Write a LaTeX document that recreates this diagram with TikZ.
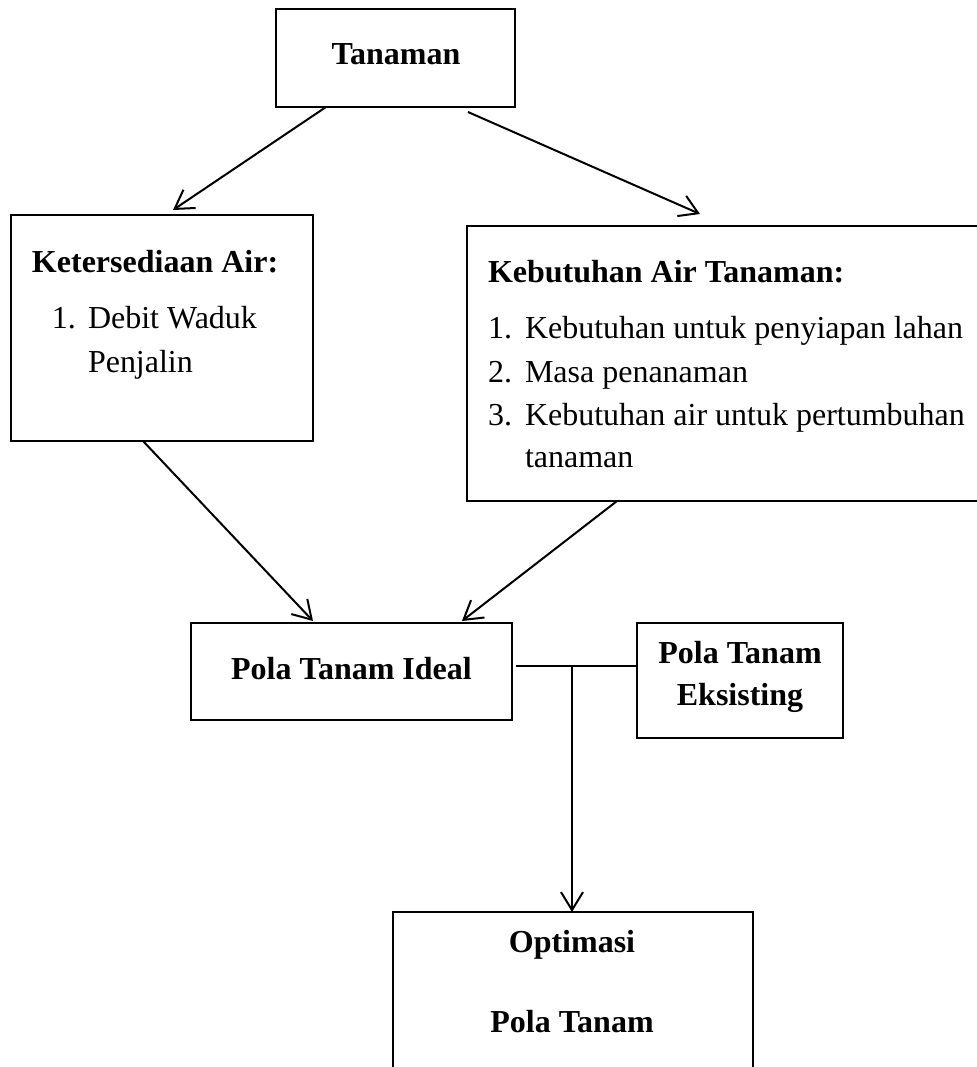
\documentclass[tikz,border=0pt]{standalone}
\usepackage{fontspec}
\setmainfont{Liberation Serif}
\usetikzlibrary{arrows.meta,fit,calc}
\tikzset{
  box/.style={draw, line width=0.75pt, inner sep=0pt, outer sep=0pt},
  txt/.style={inner sep=0pt, outer sep=0pt, font=\fontsize{16pt}{21.5pt}\selectfont},
  btxt/.style={txt, font=\fontsize{16pt}{21.5pt}\selectfont\bfseries},
  arr/.style={line width=1pt, -{Straight Barb[length=9pt,width=11pt,line width=1pt]}},
  link/.style={line width=1pt}
}
\begin{document}
\begin{tikzpicture}[x=0.5pt,y=-0.5pt]
\useasboundingbox (0,0) rectangle (976,1067);
% boxes
\node[box, fit={(276,9) (515,107)}] (tan) {};
\node[box, fit={(11,215) (313,441)}] (ket) {};
\node[box, fit={(467,226) (1010,501)}] (keb) {};
\node[box, fit={(191,623) (512,720)}] (ideal) {};
\node[box, fit={(637,623) (843,738)}] (eks) {};
\node[box, fit={(393,912) (753,1110)}] (opt) {};
% texts
\node[btxt, anchor=base] (tanT) at (396,64) {Tanaman};
\node[btxt, anchor=base west] (ketH) at (32,272) {Ketersediaan Air:};
\node[txt, anchor=base west] (ketN1) at (52,328) {1.};
\node[txt, anchor=base west] (ketI1) at (88,328) {Debit Waduk};
\node[txt, anchor=base west] (ketI1b) at (88,372) {Penjalin};
\node[btxt, anchor=base west] (kebH) at (488,282) {Kebutuhan Air Tanaman:};
\node[txt, anchor=base west] (kebN1) at (488,338) {1.};
\node[txt, anchor=base west] (kebI1) at (525,338) {Kebutuhan untuk penyiapan lahan};
\node[txt, anchor=base west] (kebN2) at (488,382) {2.};
\node[txt, anchor=base west] (kebI2) at (525,382) {Masa penanaman};
\node[txt, anchor=base west] (kebN3) at (488,425) {3.};
\node[txt, anchor=base west] (kebI3) at (525,425) {Kebutuhan air untuk pertumbuhan};
\node[txt, anchor=base west] (kebI3b) at (525,467) {tanaman};
\node[btxt, anchor=base] (idealT) at (351.5,679) {Pola Tanam Ideal};
\node[btxt, anchor=base] (eksT1) at (740,663) {Pola Tanam};
\node[btxt, anchor=base] (eksT2) at (740,705) {Eksisting};
\node[btxt, anchor=base] (optT1) at (572,952) {Optimasi};
\node[btxt, anchor=base] (optT2) at (572,1032) {Pola Tanam};
% connector end points
\coordinate (a1s) at ($(tan.south west)+(50,0)$);
\coordinate (a1e) at ($(ket.north west)+(162,-5)$);
\coordinate (a2s) at ($(tan.south east)+(-47,5)$);
\coordinate (a2e) at ($(keb.north west)+(233,-12)$);
\coordinate (a3s) at ($(ket.south west)+(132,0)$);
\coordinate (a3e) at ($(ideal.north west)+(122,-2)$);
\coordinate (a4s) at ($(keb.south west)+(150,0)$);
\coordinate (a4e) at ($(ideal.north west)+(271,-2)$);
\coordinate (ls) at ($(ideal.east)+(4,-5.5)$);
\coordinate (junc) at (572,666);
% connectors
\draw[arr] (a1s) -- (a1e);
\draw[arr] (a2s) -- (a2e);
\draw[arr] (a3s) -- (a3e);
\draw[arr] (a4s) -- (a4e);
\draw[link] (ls) -- (ls -| eks.west);
\draw[arr] (junc) -- (junc |- opt.north);
\end{tikzpicture}
\end{document}
